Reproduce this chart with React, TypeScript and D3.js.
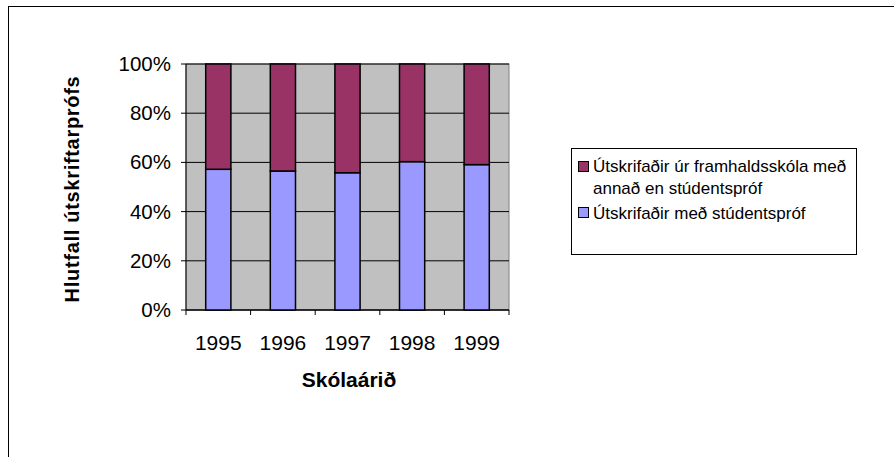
import React, { useEffect, useRef } from 'react';
import * as d3 from 'd3';

const years = ['1995', '1996', '1997', '1998', '1999'];
const studentsprof = [0.572, 0.565, 0.558, 0.603, 0.591];
const annad = [0.428, 0.435, 0.442, 0.397, 0.409];
const yTicks = [0, 0.2, 0.4, 0.6, 0.8, 1];
const seriesNames = ['Útskrifaðir úr framhaldsskóla með', 'annað en stúdentspróf'];
const seriesName2 = 'Útskrifaðir með stúdentspróf';

const App: React.FC = () => {
  const ref = useRef<SVGSVGElement>(null);

  useEffect(() => {
    if (!ref.current) return;
    const svg = d3.select(ref.current);
    svg.selectAll('*').remove();
    const font = 'Liberation Sans, Arial, sans-serif';

    // outer chart frame
    svg.append('rect').attr('x', 8.5).attr('y', 6.5).attr('width', 900).attr('height', 460)
      .attr('fill', 'white').attr('stroke', '#000').attr('stroke-width', 1);

    const left = 186, right = 509, top = 64, bottom = 310;
    const x = d3.scaleBand().domain(years).range([left, right]).paddingInner(0.61).paddingOuter(0.305);
    const y = d3.scaleLinear().domain([0, 1]).range([bottom, top]);

    svg.append('rect').attr('x', left).attr('y', top).attr('width', right - left).attr('height', bottom - top)
      .attr('fill', '#C0C0C0').attr('stroke', '#808080');

    // gridlines
    svg.append('g').selectAll('line').data(yTicks).enter().append('line')
      .attr('x1', left).attr('x2', right).attr('y1', d => y(d)).attr('y2', d => y(d))
      .attr('stroke', '#000').attr('stroke-width', 1);

    // y axis
    svg.append('line').attr('x1', left).attr('x2', left).attr('y1', top).attr('y2', bottom).attr('stroke', '#000');
    svg.append('g').selectAll('line').data(yTicks).enter().append('line')
      .attr('x1', left - 5).attr('x2', left).attr('y1', d => y(d)).attr('y2', d => y(d)).attr('stroke', '#000');
    svg.append('g').selectAll('text').data(yTicks).enter().append('text')
      .attr('x', left - 15).attr('y', d => y(d) + 7).attr('text-anchor', 'end')
      .attr('font-family', font).attr('font-size', '20.5px').text(d => d3.format('.0%')(d));

    // x axis
    const step = (right - left) / years.length;
    svg.append('line').attr('x1', left).attr('x2', right).attr('y1', bottom).attr('y2', bottom).attr('stroke', '#000');
    svg.append('g').selectAll('line').data(d3.range(years.length + 1)).enter().append('line')
      .attr('x1', i => left + i * step).attr('x2', i => left + i * step)
      .attr('y1', bottom).attr('y2', bottom + 5).attr('stroke', '#000');
    svg.append('g').selectAll('text').data(years).enter().append('text')
      .attr('x', d => x(d)! + x.bandwidth() / 2).attr('y', 349.5).attr('text-anchor', 'middle')
      .attr('font-family', font).attr('font-size', '21px').text(d => d);

    // bars
    const bars = svg.append('g');
    years.forEach((yr, i) => {
      bars.append('rect').attr('x', x(yr)!).attr('width', x.bandwidth())
        .attr('y', y(studentsprof[i])).attr('height', y(0) - y(studentsprof[i]))
        .attr('fill', '#9999FF').attr('stroke', '#000').attr('stroke-width', 1.5);
      bars.append('rect').attr('x', x(yr)!).attr('width', x.bandwidth())
        .attr('y', y(studentsprof[i] + annad[i])).attr('height', y(studentsprof[i]) - y(studentsprof[i] + annad[i]))
        .attr('fill', '#993366').attr('stroke', '#000').attr('stroke-width', 1.5);
    });

    // axis titles
    svg.append('text').attr('x', 349).attr('y', 386.5).attr('text-anchor', 'middle')
      .attr('font-family', font).attr('font-size', '21px').attr('font-weight', 'bold').text('Skólaárið');
    svg.append('text').attr('transform', 'translate(79,189) rotate(-90)').attr('text-anchor', 'middle')
      .attr('font-family', font).attr('font-size', '20px').attr('font-weight', 'bold')
      .attr('letter-spacing', '0.7px').text('Hlutfall útskriftarprófs');

    // legend
    const lg = svg.append('g');
    lg.append('rect').attr('x', 571.5).attr('y', 148.5).attr('width', 285).attr('height', 106)
      .attr('fill', 'white').attr('stroke', '#000');
    lg.append('rect').attr('x', 578.5).attr('y', 161.5).attr('width', 10).attr('height', 10)
      .attr('fill', '#993366').attr('stroke', '#000');
    lg.append('rect').attr('x', 578.5).attr('y', 207.5).attr('width', 10).attr('height', 10)
      .attr('fill', '#9999FF').attr('stroke', '#000');
    seriesNames.forEach((t, i) => {
      lg.append('text').attr('x', 593).attr('y', 172 + i * 22).attr('font-family', font)
        .attr('font-size', '17px').text(t);
    });
    lg.append('text').attr('x', 593).attr('y', 219).attr('font-family', font)
      .attr('font-size', '17px').text(seriesName2);
  }, []);

  return <svg ref={ref} width={894} height={457} style={{ position: 'absolute', left: 0, top: 0 }} />;
};

export default App;
